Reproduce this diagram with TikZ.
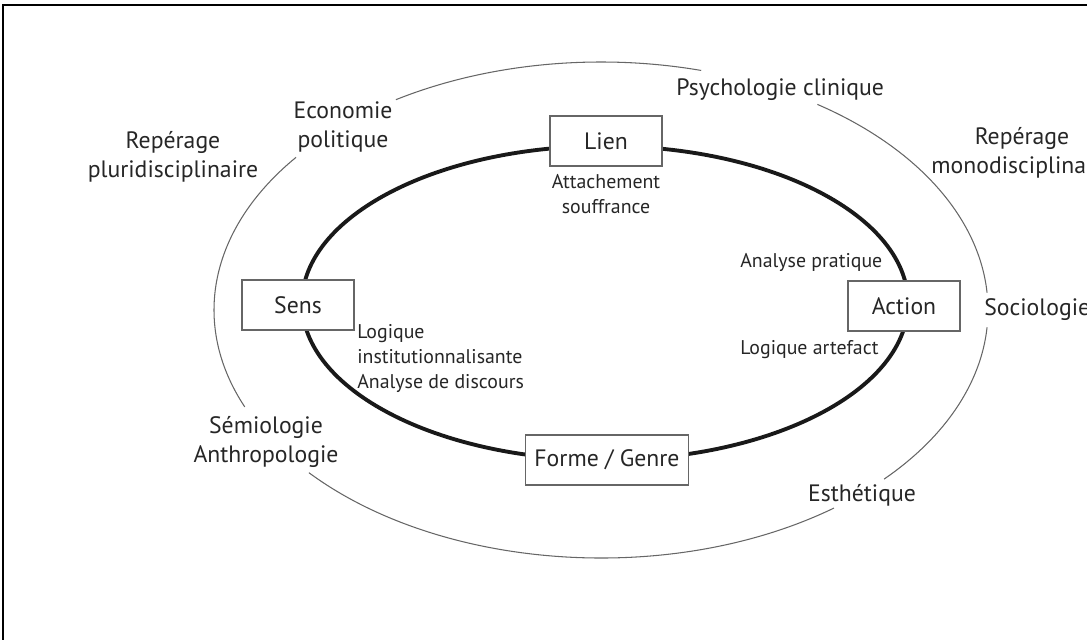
\documentclass[tikz,border=0pt]{standalone}
\usepackage{fontspec}
\setmainfont{PT Sans}
\usepackage{tikz}
\usetikzlibrary{positioning}
\newcommand\bigfnt{\fontsize{13.5}{16.4}\selectfont}
\newcommand\smallfnt{\fontsize{11.3}{14.2}\selectfont}

\begin{document}
\begin{tikzpicture}[
  x=0.02cm, y=-0.02cm,
  rolebox/.style={rectangle, draw=black!60, line width=0.8pt, fill=white, minimum width=2.24cm, minimum height=1cm, font=\bigfnt, text=black!85},
  tag/.style={font=\bigfnt, align=center, text=black!85, inner sep=0pt},
  note/.style={font=\smallfnt, align=left, text=black!85, inner sep=0pt},
  ring/.style={line width=2.2pt, black!90},
  orbit/.style={line width=0.6pt, black!60}
]
  \useasboundingbox (0,0) rectangle (1087,639);
  \clip (0,0) rectangle (1087,639);

  % frame round the whole figure
  \draw[line width=1.7pt] (3,5) rectangle (1100,660);

  % inner thick ring, the boxes sit on it
  \draw[ring] (605,303) ellipse[x radius=303, y radius=157];

  % outer thin ring, broken where the labels stand
  \draw[orbit] (601,310) ++(-122:387 and 248) arc[start angle=-122, end angle=-75, x radius=387, y radius=248];
  \draw[orbit] (601,310) ++(-56:387 and 248) arc[start angle=-56, end angle=-4, x radius=387, y radius=248];
  \draw[orbit] (601,310) ++(4:387 and 248) arc[start angle=4, end angle=43, x radius=387, y radius=248];
  \draw[orbit] (601,310) ++(53:387 and 248) arc[start angle=53, end angle=139, x radius=387, y radius=248];
  \draw[orbit] (601,310) ++(157:387 and 248) arc[start angle=157, end angle=218, x radius=387, y radius=248];

  % the four poles
  \node[rolebox] (lien) at (606,141) {Lien};
  \node[rolebox] (sens) at (298,305) {Sens};
  \node[rolebox] (action) at (904,306) {Action};
  \node[rolebox, minimum width=3.26cm] (forme) at (607,460) {Forme / Genre};

  % notes on the inner ring
  \node[note, align=center, below=4pt of lien] (attach) {Attachement\\souffrance};
  \node[note, anchor=west] (pratique) at (740,262) {Analyse pratique};
  \node[note, anchor=west] (artefact) at (740,350) {Logique artefact};
  \node[note, anchor=north west] (logique) at (357,324) {Logique\\institutionnalisante\\Analyse de discours};

  % disciplines round the outer ring
  \node[tag] (pluri) at (173,157) {Repérage\\pluridisciplinaire};
  \node[tag] (eco) at (343,127) {Economie\\politique};
  \node[tag, anchor=west] (psy) at (676,90) {Psychologie clinique};
  \node[tag] (mono) at (1022,153) {Repérage\\monodisciplinaire};
  \node[tag, anchor=west] (socio) at (984,310) {Sociologie};
  \node[tag] (semio) at (266,442) {Sémiologie\\Anthropologie};
  \node[tag] (esth) at (862,495) {Esthétique};
\end{tikzpicture}
\end{document}
